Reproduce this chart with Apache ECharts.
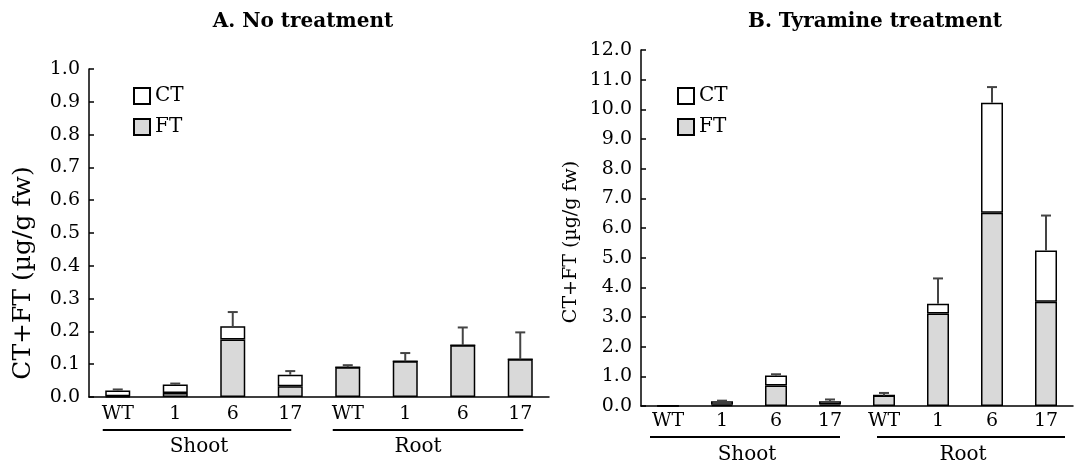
<!DOCTYPE html>
<html>
<head>
<meta charset="utf-8">
<script src="https://cdn.jsdelivr.net/npm/echarts@6/dist/echarts.min.js"></script>
<style>html,body{margin:0;padding:0;background:#fff;}#c{width:1081px;height:467px;}</style>
</head>
<body>
<div id="c"></div>
<script>
// ---- data ----
const categories = ['WT', '1', '6', '17', 'WT', '1', '6', '17'];
const groups = ['Shoot', 'Root'];
const titleA = 'A. No treatment';
const titleB = 'B. Tyramine treatment';
const yName = 'CT+FT (\u00b5g/g fw)';
// A. No treatment (µg/g fw)
const ftA = [0.002, 0.012, 0.175, 0.033, 0.091, 0.109, 0.158, 0.115];
const ctA = [0.018, 0.026, 0.041, 0.035, 0, 0, 0, 0];
const errA = [0.003, 0.003, 0.043, 0.011, 0.006, 0.025, 0.054, 0.082];
// B. Tyramine treatment (µg/g fw)
const ftB = [0.005, 0.04, 0.69, 0.05, 0.35, 3.12, 6.51, 3.51];
const ctB = [0.015, 0.12, 0.34, 0.11, 0, 0.33, 3.71, 1.73];
const errB = [0, 0.02, 0.04, 0.06, 0.09, 0.85, 0.53, 1.18];
const ticksA = { min: 0, max: 1, interval: 0.1 };
const ticksB = { min: 0, max: 12, interval: 1 };

const FONT = 'DejaVu Serif';
const chart = echarts.init(document.getElementById('c'));

function errData(ft, ct, err) {
  return ft.map((v, i) => [i, v + ct[i], v + ct[i] + err[i]]);
}
function errRender(params, api) {
  const x = api.value(0), top = api.value(1), hi = api.value(2);
  const p0 = api.coord([x, top]);
  const p1 = api.coord([x, hi]);
  if (Math.abs(p1[1] - p0[1]) < 0.5) return null;
  return {
    type: 'group',
    children: [
      { type: 'line', shape: { x1: p0[0], y1: p0[1], x2: p1[0], y2: p1[1] }, style: { stroke: '#444', lineWidth: 2 } },
      { type: 'line', shape: { x1: p1[0] - 5, y1: p1[1], x2: p1[0] + 5, y2: p1[1] }, style: { stroke: '#444', lineWidth: 2 } }
    ]
  };
}
function xAxis(gi, margin) {
  return {
    type: 'category', gridIndex: gi, data: categories,
    axisLine: { lineStyle: { color: '#000', width: 1.5 } },
    axisTick: { inside: true, length: 5, lineStyle: { color: '#000', width: 1.5 } },
    axisLabel: { color: '#000', fontFamily: FONT, fontSize: 19, margin: margin }
  };
}
function yAxis(gi, t) {
  return {
    type: 'value', gridIndex: gi, min: t.min, max: t.max, interval: t.interval,
    splitLine: { show: false },
    axisLine: { show: true, lineStyle: { color: '#000', width: 1.5 } },
    axisTick: { show: true, inside: true, length: 5, lineStyle: { color: '#000', width: 1.5 } },
    axisLabel: { color: '#000', fontFamily: FONT, fontSize: 19, margin: 9, formatter: v => v.toFixed(1) }
  };
}
function bars(gi, ft, ct, err, bw, stackName) {
  return [
    { name: 'FT', type: 'bar', xAxisIndex: gi, yAxisIndex: gi, stack: stackName, data: ft, barWidth: bw,
      itemStyle: { color: '#d9d9d9', borderColor: '#000', borderWidth: 1.5 } },
    { name: 'CT', type: 'bar', xAxisIndex: gi, yAxisIndex: gi, stack: stackName, data: ct, barWidth: bw,
      itemStyle: { color: '#fff', borderColor: '#000', borderWidth: 1.5 } },
    { name: 'err', type: 'custom', xAxisIndex: gi, yAxisIndex: gi, data: errData(ft, ct, err),
      renderItem: errRender, z: 5, silent: true }
  ];
}
const legendStyle = {
  orient: 'vertical', itemWidth: 16, itemHeight: 16, itemGap: 11,
  data: ['CT', 'FT'], selectedMode: false,
  textStyle: { color: '#000', fontFamily: FONT, fontSize: 20 },
  icon: 'rect'
};

chart.setOption({
  animation: false,
  title: [
    { text: titleA, left: 298, top: 7, textAlign: 'center',
      textStyle: { fontFamily: FONT, fontWeight: 'bold', fontSize: 20, color: '#000' } },
    { text: titleB, left: 870, top: 7, textAlign: 'center',
      textStyle: { fontFamily: FONT, fontWeight: 'bold', fontSize: 20, color: '#000' } }
  ],
  legend: [
    Object.assign({ left: 128, top: 81 }, legendStyle),
    Object.assign({ left: 672, top: 81 }, legendStyle)
  ],
  grid: [
    { left: 89, right: 532, top: 69, bottom: 70 },
    { left: 641, right: 8, top: 50, bottom: 61 }
  ],
  xAxis: [xAxis(0, 8), xAxis(1, 6)],
  yAxis: [yAxis(0, ticksA), yAxis(1, ticksB)],
  series: [].concat(bars(0, ftA, ctA, errA, 25, 'a'), bars(1, ftB, ctB, errB, 22, 'b'))
});

// group labels, underlines and y-axis names
function centerOf(gi, i) {
  const g = chart.getModel().getComponent('grid', gi).coordinateSystem.getRect();
  const w = g.width / categories.length;
  return g.x + w * (i + 0.5);
}
const gfx = [];
function groupMarks(gi, y, ty, specs) {
  specs.forEach(s => {
    const x1 = centerOf(gi, s.a) + s.o1, x2 = centerOf(gi, s.b) + s.o2;
    gfx.push({ type: 'line', shape: { x1: x1, y1: y, x2: x2, y2: y }, style: { stroke: '#000', lineWidth: 2 } });
    gfx.push({ type: 'text', x: (centerOf(gi, s.a) + centerOf(gi, s.b)) / 2 + s.t, y: ty,
      style: { text: s.label, fontFamily: FONT, fontSize: 20, fill: '#000', textAlign: 'center', textVerticalAlign: 'middle' } });
  });
}
groupMarks(0, 430, 447, [
  { a: 0, b: 3, o1: -15, o2: 1, t: -5, label: groups[0] },
  { a: 4, b: 7, o1: -15, o2: 3, t: -16, label: groups[1] }
]);
groupMarks(1, 437, 455, [
  { a: 0, b: 3, o1: -18, o2: 10, t: -2, label: groups[0] },
  { a: 4, b: 7, o1: -7, o2: 19, t: -2, label: groups[1] }
]);
gfx.push({ type: 'text', x: 23, y: 273, rotation: Math.PI / 2,
  style: { text: yName, fontFamily: FONT, fontSize: 25, fill: '#000', textAlign: 'center', textVerticalAlign: 'middle' } });
gfx.push({ type: 'text', x: 571, y: 242, rotation: Math.PI / 2,
  style: { text: yName, fontFamily: FONT, fontSize: 19, fill: '#000', textAlign: 'center', textVerticalAlign: 'middle' } });
chart.setOption({ graphic: gfx });
</script>
</body>
</html>
